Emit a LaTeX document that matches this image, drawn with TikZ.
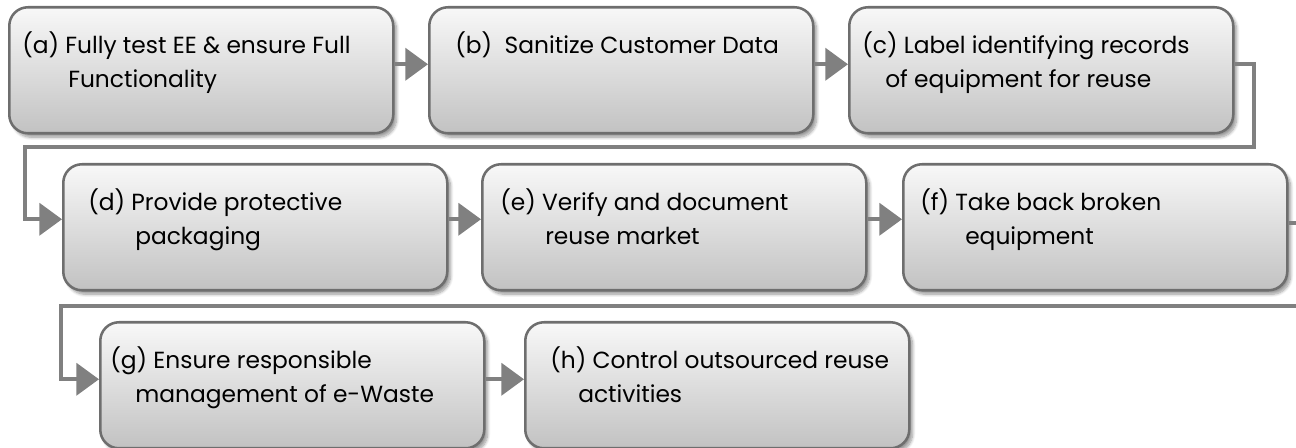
\documentclass[tikz,border=0pt]{standalone}
\usepackage{fontspec}
\setmainfont{Poppins}
\usetikzlibrary{arrows.meta,shadows.blur}
\definecolor{edgegray}{HTML}{6E6E6E}
\definecolor{linkgray}{HTML}{808080}
\definecolor{topfill}{HTML}{F8F8F8}
\definecolor{botfill}{HTML}{C2C2C2}

\begin{document}
\begin{tikzpicture}[x=0.75pt,y=-0.75pt,
  stepbox/.style={draw=edgegray, line width=1.9pt, rounded corners=14pt,
    top color=topfill, bottom color=botfill,
    minimum width=288pt, minimum height=94.5pt, anchor=north west, inner sep=0pt,
    blur shadow={shadow xshift=2.5pt, shadow yshift=-3pt, shadow blur steps=8, shadow opacity=40}},
  lbl/.style={anchor=base west, inner sep=0pt, font=\fontsize{17.5}{20}\selectfont},
  link/.style={draw=linkgray, line width=3pt, -{Triangle[length=17pt,width=24pt]}},
]
\useasboundingbox (0,0) rectangle (1296,448);
\clip (0,0) rectangle (1296,448);

% process steps
\node[stepbox] (a) at (8,6) {};
\node[stepbox] (b) at (428,6) {};
\node[stepbox] (c) at (848,6) {};
\node[stepbox] (d) at (62,163) {};
\node[stepbox] (e) at (481,163) {};
\node[stepbox] (f) at (902,163) {};
\node[stepbox] (g) at (99,321) {};
\node[stepbox] (h) at (524,321) {};

% step texts: first line and hanging second line
\node[lbl] (a1) at (22,54) {(a) Fully test EE \& ensure Full};
\node[lbl] (a2) at (68,88) {Functionality};
\node[lbl] (b1) at (455,54) {(b)\ \ Sanitize Customer Data};
\node[lbl] (c1) at (862,54) {(c) Label identifying records};
\node[lbl] (c2) at (885,88) {of equipment for reuse};
\node[lbl] (d1) at (88,211) {(d) Provide protective};
\node[lbl] (d2) at (135,245) {packaging};
\node[lbl] (e1) at (500,211) {(e) Verify and document};
\node[lbl] (e2) at (545,245) {reuse market};
\node[lbl] (f1) at (920,211) {(f) Take back broken};
\node[lbl] (f2) at (965,245) {equipment};
\node[lbl] (g1) at (110,369) {(g) Ensure responsible};
\node[lbl] (g2) at (135,403) {management of e-Waste};
\node[lbl] (h1) at (550,369) {(h) Control outsourced reuse};
\node[lbl] (h2) at (578,403) {activities};

% bend points of the row-to-row connectors
\coordinate (cd) at (25,147);
\coordinate (fg) at (61,306);

% connectors
\draw[link] ([yshift=4.5pt]a.east) -- ([yshift=4.5pt]b.west);
\draw[link] ([yshift=4.5pt]b.east) -- ([yshift=4.5pt]c.west);
\draw[link] ([yshift=4.5pt]c.east) -- ++(19,0) |- (cd) |- ([yshift=6pt]d.west);
\draw[link] ([yshift=6pt]d.east) -- ([yshift=6pt]e.west);
\draw[link] ([yshift=6pt]e.east) -- ([yshift=6pt]f.west);
\draw[link] ([yshift=3pt]f.east) -- ++(20,0) |- (fg) |- ([yshift=4.5pt]g.west);
\draw[link] ([yshift=4.5pt]g.east) -- ([yshift=4.5pt]h.west);
\end{tikzpicture}
\end{document}
